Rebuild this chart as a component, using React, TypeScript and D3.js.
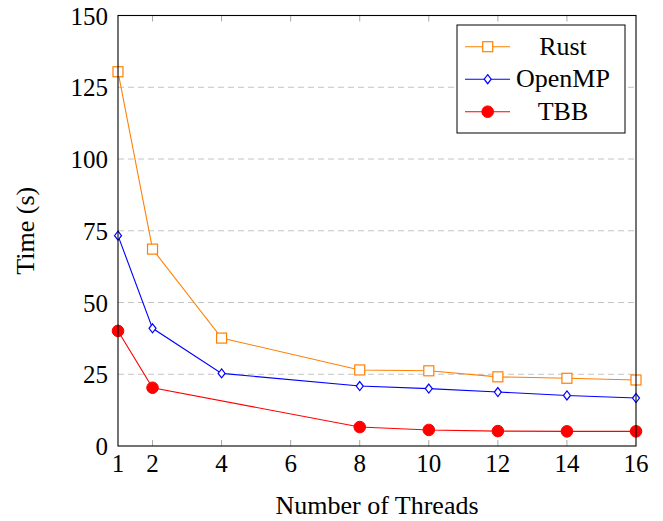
import React from 'react';
import * as d3 from 'd3';

const threads = [1, 2, 4, 8, 10, 12, 14, 16];
const rustTimes = [130.4, 68.6, 37.6, 26.5, 26.2, 24.1, 23.6, 23.0];
const openmpTimes = [73.3, 41.0, 25.3, 20.9, 20.0, 18.8, 17.6, 16.7];
const tbbTimes = [40.1, 20.3, null, 6.6, 5.6, 5.2, 5.1, 5.1];
const xTickValues = [1, 2, 4, 6, 8, 10, 12, 14, 16];
const yTickValues = [0, 25, 50, 75, 100, 125, 150];
const seriesNames = ['Rust', 'OpenMP', 'TBB'];

const W = 663;
const H = 521;
const margin = { top: 15.5, right: 27, bottom: 75, left: 118 };
const FONT = "'Liberation Serif', 'Times New Roman', Times, serif";

const colors: Record<string, string> = { Rust: '#ff8000', OpenMP: '#0000ff', TBB: '#ff0000' };

const x = d3.scaleLinear().domain([1, 16]).range([margin.left, W - margin.right]);
const y = d3.scaleLinear().domain([0, 150]).range([H - margin.bottom, margin.top]);

type Pt = { t: number; v: number };
const toPts = (vals: (number | null)[]): Pt[] =>
  threads.map((t, i) => ({ t, v: vals[i] as number })).filter(d => d.v != null);

const series = [
  { name: 'Rust', pts: toPts(rustTimes) },
  { name: 'OpenMP', pts: toPts(openmpTimes) },
  { name: 'TBB', pts: toPts(tbbTimes) },
];

const line = d3.line<Pt>().x(d => x(d.t)).y(d => y(d.v));

function Marker({ name, cx, cy }: { name: string; cx: number; cy: number }) {
  const c = colors[name];
  if (name === 'Rust')
    return <rect x={cx - 5} y={cy - 5} width={10} height={10} fill="white" stroke={c} strokeWidth={1.2} />;
  if (name === 'OpenMP')
    return (
      <path
        d={`M${cx},${cy - 4.5}L${cx + 3.5},${cy}L${cx},${cy + 4.5}L${cx - 3.5},${cy}Z`}
        fill="white"
        stroke={c}
        strokeWidth={1.2}
      />
    );
  return <circle cx={cx} cy={cy} r={5.8} fill={c} stroke={c} />;
}

const tickStyle = { fontFamily: FONT, fontSize: 25 };
const labelStyle = { fontFamily: FONT, fontSize: 26 };

export default function App() {
  const [x0, x1] = x.range();
  const [y0, y1] = y.range();
  const legend = { x: 457, y: 25, w: 168, h: 108 };

  return (
    <svg width={W} height={H} style={{ position: 'absolute', left: 0, top: 0, background: 'white' }}>
      {/* grid */}
      {yTickValues.filter(v => v > 0 && v < 150).map(v => (
        <line key={v} x1={x0} x2={x1} y1={y(v)} y2={y(v)} stroke="#c4c4c4" strokeDasharray="6,4" strokeWidth={1} />
      ))}
      {/* x ticks inward */}
      {xTickValues.filter(v => v > 1 && v < 16).map(v => (
        <g key={v} stroke="#a8a8a8" strokeWidth={1}>
          <line x1={x(v)} x2={x(v)} y1={y0} y2={y0 - 6} />
          <line x1={x(v)} x2={x(v)} y1={y1} y2={y1 + 6} />
        </g>
      ))}
      {/* series */}
      {series.map(s => (
        <path key={s.name} d={line(s.pts) || ''} fill="none" stroke={colors[s.name]} strokeWidth={1.1} />
      ))}
      {series.map(s => (
        <g key={s.name}>
          {s.pts.map(p => (
            <Marker key={p.t} name={s.name} cx={x(p.t)} cy={y(p.v)} />
          ))}
        </g>
      ))}
      {/* frame */}
      <rect x={x0} y={y1} width={x1 - x0} height={y0 - y1} fill="none" stroke="black" strokeWidth={1.1} />
      {/* tick labels */}
      {xTickValues.map(v => (
        <text key={v} x={x(v)} y={472} textAnchor="middle" style={tickStyle}>
          {v}
        </text>
      ))}
      {yTickValues.map(v => (
        <text key={v} x={x0 - 10} y={y(v) + 9} textAnchor="end" style={tickStyle}>
          {v}
        </text>
      ))}
      {/* axis labels */}
      <text x={(x0 + x1) / 2} y={514} textAnchor="middle" style={labelStyle}>
        Number of Threads
      </text>
      <text transform={`translate(34,${(y0 + y1) / 2}) rotate(-90)`} textAnchor="middle" style={labelStyle}>
        Time (s)
      </text>
      {/* legend */}
      <rect x={legend.x} y={legend.y} width={legend.w} height={legend.h} fill="white" stroke="black" strokeWidth={1} />
      {seriesNames.map((n, i) => {
        const ry = 46.7 + i * 32.5;
        return (
          <g key={n}>
            <line x1={465} x2={510} y1={ry} y2={ry} stroke={colors[n]} strokeWidth={1.1} />
            <Marker name={n} cx={487.7} cy={ry} />
            <text x={563} y={ry + 8} textAnchor="middle" style={labelStyle}>
              {n}
            </text>
          </g>
        );
      })}
    </svg>
  );
}
